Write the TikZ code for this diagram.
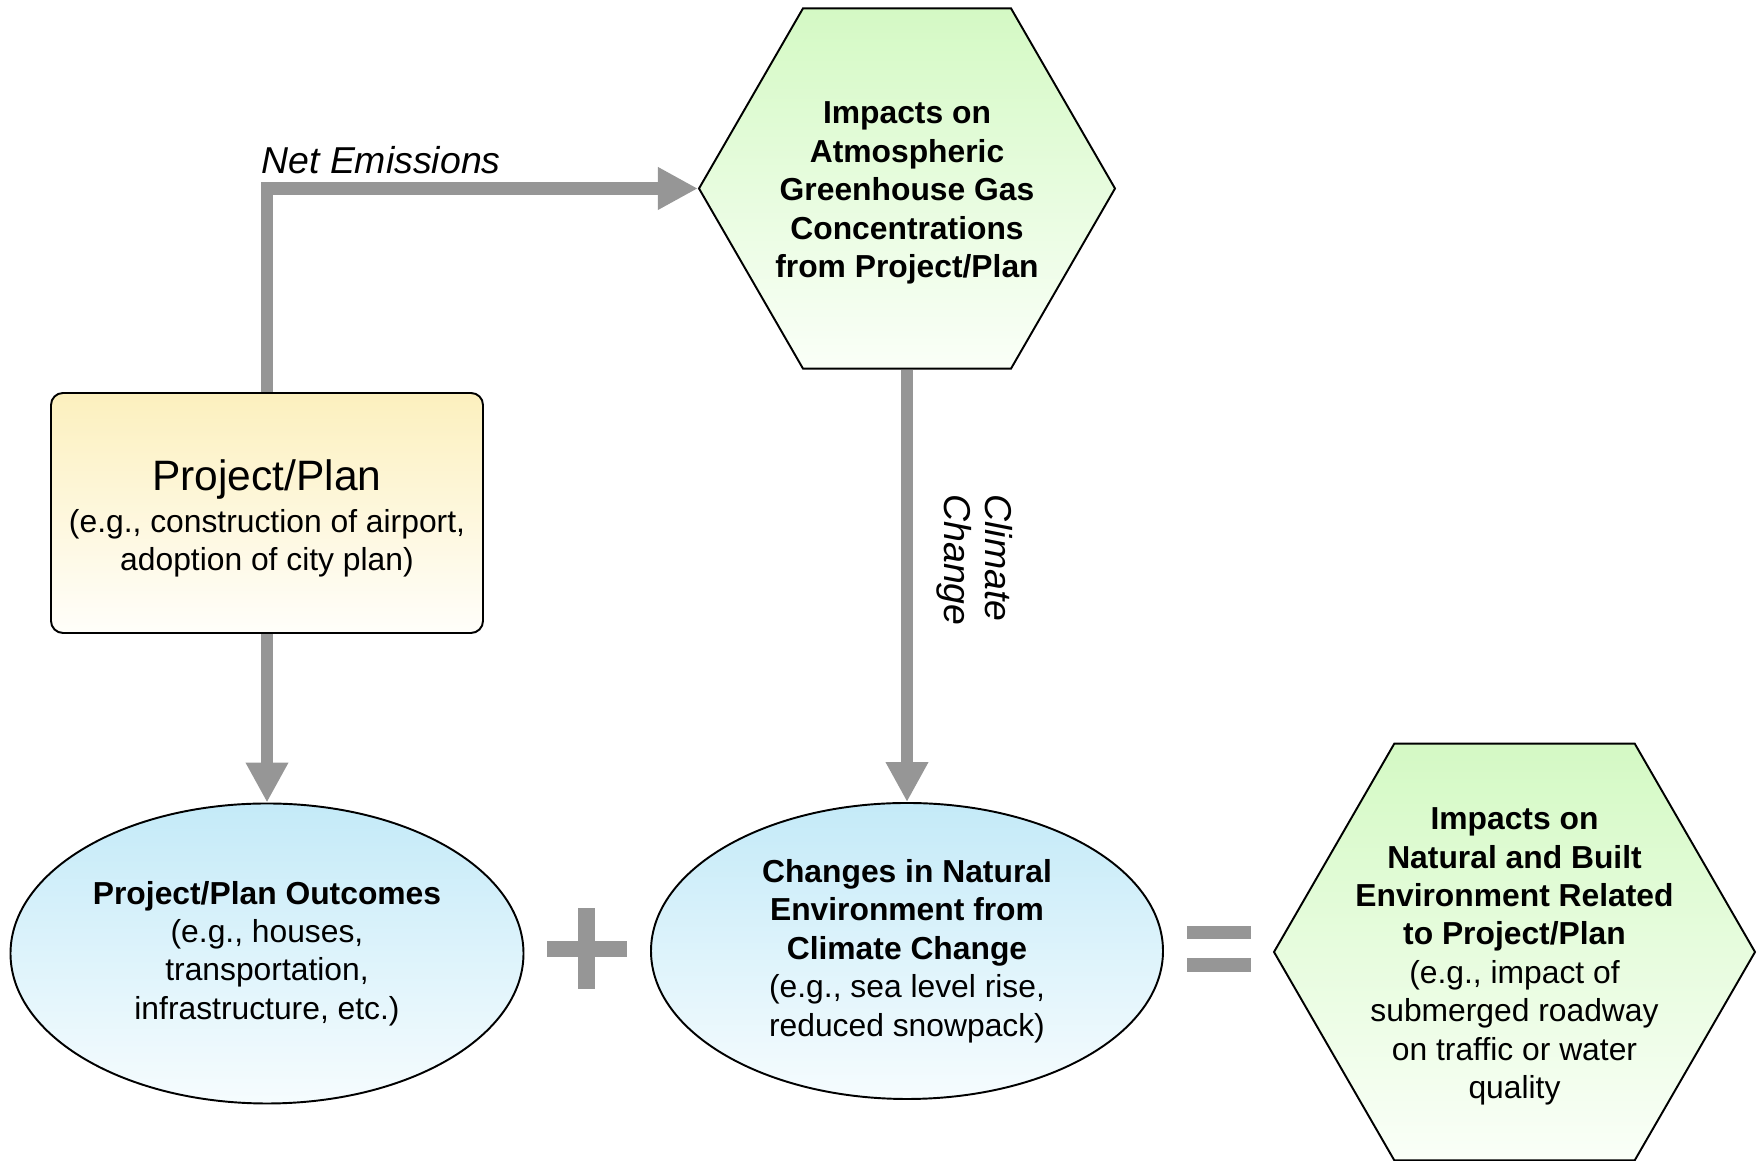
\documentclass[tikz,border=0pt]{standalone}
\usepackage{fontspec}
\setmainfont{Liberation Sans}
\usetikzlibrary{positioning, shapes.geometric, arrows.meta}
\definecolor{hexgreen}{RGB}{212,249,196}
\definecolor{hexwhite}{RGB}{250,255,248}
\definecolor{boxyellow}{RGB}{252,240,190}
\definecolor{boxwhite}{RGB}{255,254,250}
\definecolor{ellblue}{RGB}{196,234,248}
\definecolor{ellwhite}{RGB}{246,252,254}
\definecolor{arrowgray}{RGB}{150,150,150}

\newcommand{\diagfont}{\fontsize{18.1}{21.85}\selectfont}
\newcommand{\headfont}{\fontsize{24.2}{27}\selectfont}
\newcommand{\tagfont}{\fontsize{21.3}{23.3}\selectfont}

\begin{document}
\begin{tikzpicture}[
    hexnode/.style={
        regular polygon,
        regular polygon sides=6,
        draw=black,
        line width=1.1pt,
        top color=hexgreen,
        bottom color=hexwhite,
        inner sep=0pt
    },
    hextext/.style={
        align=center,
        font=\diagfont,
        inner sep=0pt,
        yshift=-0.09cm
    },
    ellnode/.style={
        ellipse,
        draw=black,
        line width=1.1pt,
        top color=ellblue,
        bottom color=ellwhite,
        inner sep=0pt,
        align=center,
        font=\diagfont
    },
    planbox/.style={
        rectangle,
        rounded corners=0.24cm,
        draw=black,
        line width=1.1pt,
        top color=boxyellow,
        bottom color=boxwhite,
        minimum width=8.64cm,
        minimum height=4.8cm,
        align=center,
        font=\diagfont
    },
    flowarrow/.style={
        draw=arrowgray,
        line width=0.25cm,
        -{Triangle[length=0.8cm, width=0.8cm]}
    },
    arrowtag/.style={
        font=\tagfont\itshape,
        inner sep=0pt
    }
]

\useasboundingbox (0,0) rectangle (35.24,23.22);

% --- TOP ROW ---
\node[hexnode, minimum size=8.32cm,
    label={[hextext, font=\diagfont\bfseries]center:{Impacts on\\Atmospheric\\Greenhouse Gas\\Concentrations\\from Project/Plan}}]
    (ghg) at (18.14, 19.45) {};
\node[planbox] (plan) at (5.34, 12.96)
    {{\headfont\rule{0pt}{23.5pt}Project/Plan}\\[2pt](e.g., construction of airport,\\adoption of city plan)};

% --- BOTTOM ROW ---
\node[ellnode, minimum width=10.26cm, minimum height=6cm] (outcomes) at (5.34, 4.15)
    {\textbf{Project/Plan Outcomes}\\(e.g., houses,\\transportation,\\infrastructure, etc.)};
\node[ellnode, minimum width=10.24cm, minimum height=5.92cm] (changes) at (18.14, 4.2)
    {\textbf{Changes in Natural}\\\textbf{Environment from}\\\textbf{Climate Change}\\(e.g., sea level rise,\\reduced snowpack)};
\node[hexnode, minimum size=9.62cm,
    label={[hextext]center:{\textbf{Impacts on}\\\textbf{Natural and Built}\\\textbf{Environment Related}\\\textbf{to Project/Plan}\\(e.g., impact of\\submerged roadway\\on traffic or water\\quality}}]
    (impacts) at (30.29, 4.18) {};

% --- PLUS / EQUALS ---
\fill[arrowgray] (10.94, 4.08) rectangle (12.54, 4.40);
\fill[arrowgray] (11.56, 3.44) rectangle (11.90, 5.06);
\fill[arrowgray] (23.74, 4.44) rectangle (25.02, 4.70);
\fill[arrowgray] (23.74, 3.78) rectangle (25.02, 4.06);

% --- ARROWS ---
\draw[flowarrow] (plan.north) |- (ghg.west);
\draw[flowarrow] (plan.south) -- (outcomes.north);
\draw[flowarrow] (ghg.south) -- (changes.north);

% --- ARROW LABELS ---
\node[arrowtag] (netem) at (7.62, 20.01) {Net Emissions};
\node[arrowtag, rotate=-90, align=left] (climchg) at (19.5, 12.02) {Climate\\Change};

\end{tikzpicture}
\end{document}
